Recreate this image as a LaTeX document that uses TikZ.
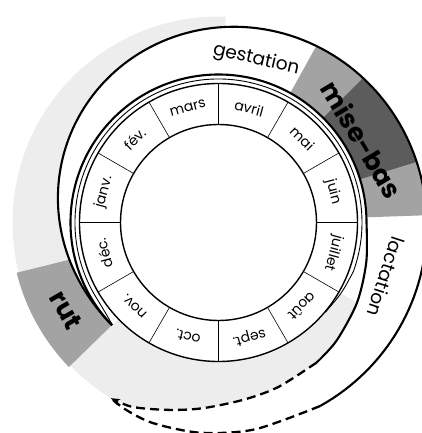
\documentclass[tikz,border=0pt]{standalone}
\usepackage{fontspec}
\setmainfont{Poppins}
\usetikzlibrary{arrows.meta}
\definecolor{lightgrey}{gray}{0.93}
\definecolor{midgrey}{gray}{0.64}
\definecolor{darkgrey}{gray}{0.36}
\begin{document}
\begin{tikzpicture}[x=1pt,y=1pt,
  declare function={rout(\p)=148+62*(1-exp(-((\p)/110)^1.8));},
  spiral/.style={line width=2.1pt},
  dashspiral/.style={line width=2.3pt, dash pattern=on 9pt off 5pt},
  thinline/.style={line width=0.9pt},
  ring/.style={line width=1.4pt},
  divider/.style={line width=0.6pt},
  month/.style={font=\fontsize{14}{14}\selectfont, inner sep=0pt},
  band/.style={font=\fontsize{18.5}{18.5}\selectfont, inner sep=0pt},
  boldlabel/.style={font=\fontsize{26}{26}\selectfont\bfseries, inner sep=0pt}]
\useasboundingbox (0,0) rectangle (422,433);
\clip (0,0) rectangle (422,433);
\begin{scope}[shift={(218.5,210.5)}]
% light grey background band
\fill[lightgrey] (88:206) arc[start angle=88,end angle=330,radius=206] -- (330:139) arc[start angle=330,end angle=88,radius=139] -- cycle;
% white spiral band
\fill[white] (224:148) arc[start angle=224,end angle=0,radius=148]
  -- plot[smooth] coordinates {(0:148) (-15:153) (-30:160) (-45:167) (-55:171) (-70:175) (-82:179) (-95:186.5) (-105:194) (-115:203.5) (-121.5:206)}
  -- plot[smooth] coordinates {(-121.5:206) (-116:209) (-108:211) (-95:211) (-80:210) (-61:209.8)}
  -- plot[domain=285:0.1,samples=120] ({224-\x}:{rout(\x)}) -- cycle;
\fill[white] (85:148) arc[start angle=85,end angle=224,radius=148] -- (224:139) arc[start angle=224,end angle=85,radius=139] -- cycle;
% rut
\fill[midgrey] plot[domain=0.1:30,samples=20] ({224-\x}:{rout(\x)}) -- (194:208) arc[start angle=194,end angle=224,radius=208] -- cycle;
% mise-bas
\fill[midgrey] (61:148) arc[start angle=61,end angle=2,radius=148] -- plot[domain=222:163,samples=30] ({224-\x}:{rout(\x)}) -- cycle;
\fill[darkgrey] (45:148) arc[start angle=45,end angle=17,radius=148] -- plot[domain=207:179,samples=30] ({224-\x}:{rout(\x)}) -- cycle;
% month ring
\fill[white] (0,0) circle[radius=139];
\draw[ring] (0,0) circle[radius=139];
\draw[ring] (0,0) circle[radius=98];
\foreach \a in {0,30,...,330} \draw[divider] (\a:98) -- (\a:139);
% thin line
\draw[thinline] plot[smooth] coordinates {(224:147.5) (218:144.5) (210:143.5)} arc[start angle=210,end angle=-20,radius=143.5] -- plot[smooth] coordinates {(-20:143.5) (-30:141.5) (-40:139.5)};
% inner spiral
\draw[spiral] (224:148) arc[start angle=224,end angle=0,radius=148] -- plot[smooth] coordinates {(0:148) (-15:153) (-30:160) (-45:167) (-55:171)};
\draw[dashspiral,-{Stealth[length=9pt,width=7pt]}] plot[smooth] coordinates {(-55:171) (-70:175) (-82:179) (-95:186.5) (-105:194) (-115:203.5) (-121.5:206)};
% outer spiral
\draw[spiral] plot[domain=0.1:285,samples=150] ({224-\x}:{rout(\x)});
\draw[dashspiral] plot[smooth] coordinates {(-61:209.8) (-80:210) (-95:211) (-108:211) (-116:209) (-121.5:206)};
% labels
\node[band, rotate=-13] (gest) at (77:167) {gestation};
\node[band, rotate=-108] (lact) at (-18:176) {lactation};
\node[boldlabel, rotate=-59] (mb) at (30:166) {mise-bas};
\node[boldlabel, rotate=-60] (rut) at (210:176) {rut};
\foreach \n/\a [count=\i] in {avril/75, mai/45, juin/15, juillet/-15, août/-45, sept./-75, oct./-105, nov./-135, déc./-165, janv./165, fév./135, mars/105}
  \node[month, rotate=\a-90] (m\i) at (\a:118.5) {\n};
\end{scope}
\end{tikzpicture}
\end{document}
